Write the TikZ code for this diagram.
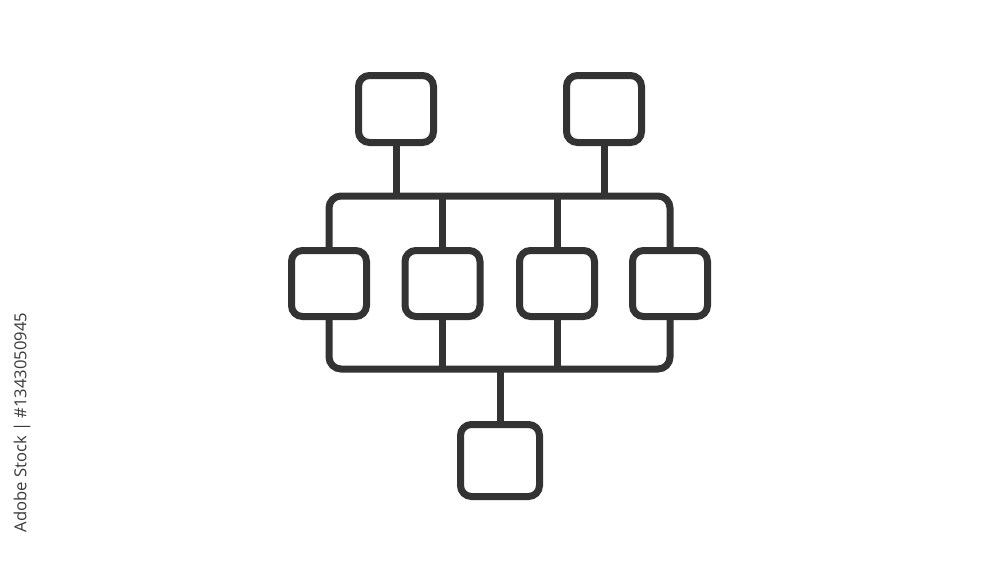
\documentclass[tikz,border=0pt]{standalone}
\usepackage{fontspec}
\newfontfamily\wmfont{Open Sans}
\definecolor{ink}{HTML}{333333}
\definecolor{wm}{HTML}{3A3A3A}
\begin{document}
\begin{tikzpicture}[x=1pt,y=-1pt,
  box/.style={draw=ink, line width=7pt, rounded corners=11pt, rectangle, inner sep=0pt,
              minimum width=75pt, minimum height=67pt},
  conn/.style={draw=ink, line width=7pt}]
\useasboundingbox[fill=white] (0,0) rectangle (1000,562);
% top boxes
\node[box] (t1) at (396,109) {};
\node[box] (t2) at (604,109) {};
% middle boxes
\node[box, minimum height=66pt] (m1) at (329,283.5) {};
\node[box, minimum height=66pt] (m2) at (442.5,283.5) {};
\node[box, minimum height=66pt] (m3) at (557,283.5) {};
\node[box, minimum height=66pt] (m4) at (670,283.5) {};
% bottom box
\node[box, minimum width=79pt, minimum height=72pt] (b) at (500,460.5) {};
\coordinate (bustop) at (0,196);
\coordinate (busbot) at (0,369);
% top bus
\draw[conn, rounded corners=12pt] (m1.north) |- (m4.north |- bustop) -- (m4.north);
\draw[conn] (t1.south) -- (t1.south |- bustop);
\draw[conn] (t2.south) -- (t2.south |- bustop);
\draw[conn] (m2.north) -- (m2.north |- bustop);
\draw[conn] (m3.north) -- (m3.north |- bustop);
% bottom bus
\draw[conn, rounded corners=12pt] (m1.south) |- (m4.south |- busbot) -- (m4.south);
\draw[conn] (m2.south) -- (m2.south |- busbot);
\draw[conn] (m3.south) -- (m3.south |- busbot);
\draw[conn] (b.north) -- (b.north |- busbot);
% watermark
\node[rotate=90, text=wm, font=\wmfont\fontsize{16.6}{18}\selectfont, inner sep=0pt] (wmk) at (22,422.5) {Adobe Stock | \#1343050945};
\end{tikzpicture}
\end{document}
